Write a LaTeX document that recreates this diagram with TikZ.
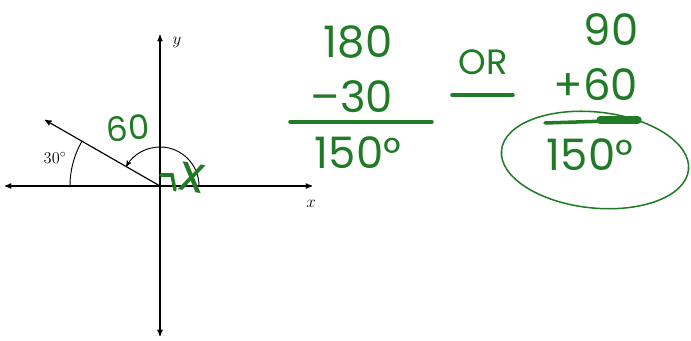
\documentclass[tikz,border=0pt]{standalone}
\usepackage{fontspec}
\usepackage{xcolor}
\usepackage{tikz}
\usetikzlibrary{positioning, arrows.meta, arrows}
\newfontfamily\handfont{Poppins}
\definecolor{marker}{RGB}{32,122,38}

\begin{document}
\begin{tikzpicture}[x=0.03cm,y=0.03cm,>=stealth',thick,
    axis/.style={<->,line width=1pt},
    hand/.style={text=marker,font=\handfont\fontsize{37}{40}\selectfont,inner sep=0pt},
    handline/.style={draw=marker,line width=3pt,line cap=round},
    lbl/.style={font=\fontsize{14}{16}\selectfont,inner sep=1pt}]
    \useasboundingbox (0,0) rectangle (691,341);

    % axes
    \coordinate (O) at (160,155);
    \coordinate (xl) at (5,155);
    \coordinate (xr) at (312,155);
    \coordinate (yt) at (160,306);
    \coordinate (yb) at (160,5);
    \coordinate (tip) at (45,221);
    \path (xl) edge[axis] (xr)
          (yb) edge[axis] (yt)
          (O) edge[->,line width=1pt] (tip);
    \node[lbl] (ylab) at (177,298) {$y$};
    \node[lbl] (xlab) at (311,137) {$x$};

    % angle arcs
    \draw[line width=0.8pt] ([shift={(180:90)}]O) arc (180:150:90);
    \node[lbl] (thirty) at (55,183) {30$^\circ$};
    \draw[->,line width=0.8pt] ([shift={(0:39)}]O) arc (0:150:39);

    % pen marks
    \node[hand,font=\handfont\fontsize{29}{30}\selectfont,rotate=5] (sixty) at (128,213) {60};
    \draw[handline] (161,166) -- (172,166) -- (175,151);
    \node[hand,font=\handfont\fontsize{44}{44}\selectfont,rotate=-10] (cross) at (192,163) {x};

    % first sum
    \node[hand] (a1) at (358,299) {180};
    \node[hand] (a2) at (352,244) {–30};
    \coordinate (l1a) at (290,219);
    \coordinate (l1b) at (432,219);
    \draw[handline] (l1a) -- (l1b);
    \node[hand] (a3) at (358,188) {150°};

    % or
    \node[hand,font=\handfont\fontsize{30}{32}\selectfont] (or) at (483,279) {OR};
    \draw[handline] (452,246) -- (513,246);

    % second sum
    \node[hand] (b1) at (611,311) {90};
    \node[hand] (b2) at (596,256) {+60};
    \coordinate (l2a) at (545,218);
    \coordinate (l2b) at (640,221);
    \draw[handline] (l2a) -- (l2b);
    \draw[draw=marker,line width=6pt,line cap=round] (600,221) -- (638,221);
    \node[hand] (b3) at (590,186) {150°};
    \draw[draw=marker,line width=1.3pt,rotate around={-6:(595,181)}] (595,181) ellipse (94 and 48);
\end{tikzpicture}
\end{document}
